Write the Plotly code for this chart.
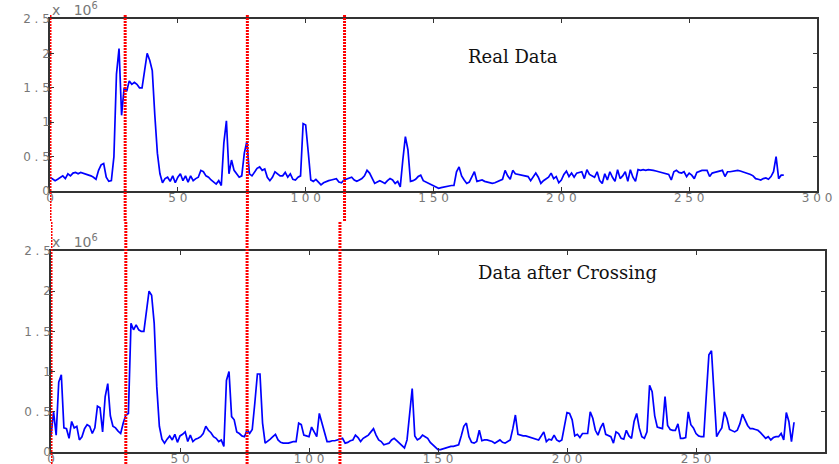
import plotly.graph_objects as go

# values in units of 10^6
real_data = [
    0.20, 0.17, 0.15, 0.17, 0.20, 0.22, 0.18, 0.25, 0.22, 0.26,
    0.27, 0.25, 0.27, 0.26, 0.25, 0.24, 0.22, 0.20, 0.17, 0.30,
    0.38, 0.40, 0.20, 0.14, 0.15, 0.50, 1.70, 2.07, 1.10, 1.50,
    1.45, 1.60, 1.55, 1.58, 1.55, 1.50, 1.50, 1.75, 2.00, 1.90,
    1.75, 1.10, 0.55, 0.25, 0.12, 0.18, 0.20, 0.14, 0.22, 0.12,
    0.20, 0.25, 0.15, 0.22, 0.13, 0.22, 0.15, 0.18, 0.20, 0.30,
    0.28, 0.22, 0.20, 0.16, 0.13, 0.10, 0.15, 0.08, 0.70, 1.02,
    0.25, 0.45, 0.30, 0.25, 0.20, 0.22, 0.55, 0.72, 0.25, 0.22,
    0.28, 0.33, 0.35, 0.30, 0.32, 0.20, 0.15, 0.20, 0.28, 0.25,
    0.22, 0.22, 0.27, 0.20, 0.25, 0.17, 0.16, 0.20, 0.22, 0.98,
    0.96, 0.57, 0.16, 0.14, 0.17, 0.13, 0.09, 0.12, 0.14, 0.15,
    0.16, 0.17, 0.18, 0.13, 0.12, 0.16, 0.17, 0.19, 0.20, 0.16,
    0.14, 0.16, 0.18, 0.22, 0.30, 0.26, 0.18, 0.11, 0.13, 0.15,
    0.13, 0.11, 0.15, 0.18, 0.16, 0.11, 0.14, 0.06, 0.45, 0.79,
    0.60, 0.14, 0.15, 0.17, 0.21, 0.23, 0.15, 0.13, 0.11, 0.10,
    0.08, 0.06, 0.04, 0.05, 0.06, 0.06, 0.07, 0.08, 0.08, 0.28,
    0.35, 0.22, 0.16, 0.11, 0.13, 0.20, 0.28, 0.14, 0.15, 0.16,
    0.14, 0.13, 0.12, 0.11, 0.12, 0.14, 0.15, 0.17, 0.30, 0.22,
    0.17, 0.30, 0.25, 0.24, 0.23, 0.23, 0.22, 0.21, 0.15, 0.20,
    0.26, 0.20, 0.11, 0.15, 0.18, 0.20, 0.26, 0.18, 0.21, 0.12,
    0.16, 0.24, 0.29, 0.21, 0.26, 0.20, 0.26, 0.27, 0.28, 0.18,
    0.31, 0.24, 0.22, 0.20, 0.28, 0.15, 0.11, 0.25, 0.16, 0.28,
    0.20, 0.14, 0.31, 0.18, 0.22, 0.28, 0.14, 0.31, 0.20, 0.14,
    0.31, 0.30, 0.31, 0.30, 0.31, 0.31, 0.30, 0.29, 0.28, 0.27,
    0.26, 0.26, 0.24, 0.16, 0.28, 0.30, 0.27, 0.26, 0.28, 0.21,
    0.26, 0.23, 0.18, 0.27, 0.29, 0.30, 0.30, 0.30, 0.21, 0.26,
    0.27, 0.28, 0.29, 0.30, 0.21, 0.28, 0.28, 0.29, 0.30, 0.30,
    0.29, 0.28, 0.27, 0.25, 0.24, 0.22, 0.18, 0.17, 0.16, 0.18,
    0.19, 0.17, 0.21, 0.28, 0.50, 0.18, 0.23, 0.23,
]

crossed_data = [
    0.21, 0.50, 0.21, 0.87, 0.96, 0.30, 0.29, 0.17, 0.38, 0.30,
    0.32, 0.15, 0.19, 0.29, 0.34, 0.32, 0.23, 0.30, 0.57, 0.55,
    0.25, 0.69, 0.85, 0.45, 0.32, 0.30, 0.26, 0.23, 0.36, 0.46,
    0.48, 1.60, 1.52, 1.58, 1.52, 1.50, 1.50, 1.75, 2.00, 1.95,
    1.60, 0.81, 0.32, 0.16, 0.11, 0.16, 0.20, 0.15, 0.22, 0.12,
    0.20, 0.22, 0.25, 0.13, 0.21, 0.13, 0.16, 0.17, 0.19, 0.23,
    0.32, 0.27, 0.24, 0.19, 0.17, 0.13, 0.15, 0.07, 0.89, 1.00,
    0.44, 0.40, 0.25, 0.23, 0.20, 0.19, 0.28, 0.23, 0.28, 0.61,
    0.97, 0.97, 0.36, 0.11, 0.13, 0.16, 0.19, 0.22, 0.15, 0.12,
    0.11, 0.11, 0.11, 0.12, 0.13, 0.13, 0.36, 0.34, 0.21, 0.20,
    0.19, 0.31, 0.25, 0.19, 0.48, 0.36, 0.25, 0.13, 0.13, 0.14,
    0.14, 0.15, 0.16, 0.17, 0.11, 0.12, 0.14, 0.15, 0.21, 0.18,
    0.13, 0.17, 0.19, 0.21, 0.25, 0.29, 0.21, 0.15, 0.13, 0.09,
    0.10, 0.11, 0.15, 0.17, 0.14, 0.11, 0.09, 0.05, 0.15, 0.48,
    0.79, 0.20, 0.15, 0.17, 0.21, 0.19, 0.17, 0.12, 0.09, 0.07,
    0.03, 0.03, 0.04, 0.05, 0.06, 0.07, 0.07, 0.08, 0.09, 0.20,
    0.32, 0.36, 0.19, 0.12, 0.11, 0.13, 0.27, 0.14, 0.15, 0.15,
    0.14, 0.13, 0.11, 0.13, 0.15, 0.12, 0.11, 0.13, 0.15, 0.29,
    0.46, 0.22, 0.21, 0.20, 0.20, 0.19, 0.18, 0.17, 0.16, 0.15,
    0.20, 0.25, 0.13, 0.16, 0.15, 0.21, 0.15, 0.13, 0.15, 0.30,
    0.49, 0.48, 0.40, 0.20, 0.22, 0.18, 0.23, 0.23, 0.23, 0.50,
    0.42, 0.27, 0.21, 0.30, 0.36, 0.22, 0.20, 0.19, 0.11, 0.25,
    0.23, 0.17, 0.16, 0.27, 0.20, 0.17, 0.38, 0.48, 0.30, 0.19,
    0.17, 0.25, 0.83, 0.75, 0.45, 0.31, 0.30, 0.29, 0.69, 0.33,
    0.28, 0.27, 0.27, 0.35, 0.17, 0.17, 0.18, 0.50, 0.34, 0.30,
    0.23, 0.20, 0.19, 0.19, 0.71, 1.21, 1.26, 0.73, 0.19, 0.25,
    0.30, 0.50, 0.42, 0.28, 0.26, 0.25, 0.27, 0.35, 0.47, 0.40,
    0.33, 0.29, 0.29, 0.28, 0.27, 0.24, 0.20, 0.17, 0.19, 0.15,
    0.18, 0.19, 0.19, 0.23, 0.15, 0.49, 0.38, 0.13, 0.37,
]

x_real = list(range(len(real_data)))
x_crossed = list(range(len(crossed_data)))

x_ticks = [0, 50, 100, 150, 200, 250, 300]
x_tick_labels = ["0", "5 0", "1 0 0", "1 5 0", "2 0 0", "2 5 0", "3 0 0"]
y_ticks = [0, 0.5, 1, 1.5, 2, 2.5]
y_tick_labels = ["0", "0 . 5", "1", "1 . 5", "2", "2 . 5"]

cross_top = [0, 29.4, 77.2, 115.2]
cross_bottom = [0, 29.0, 76.0, 112.0]

W, H = 839, 464


def px_x(p):
    return p / W


def px_y(p):
    return 1 - p / H


fig = go.Figure()
fig.add_trace(go.Scatter(x=x_real, y=real_data, mode="lines",
                         line=dict(color="#0000ff", width=1.7),
                         xaxis="x", yaxis="y", showlegend=False))
fig.add_trace(go.Scatter(x=x_crossed, y=crossed_data, mode="lines",
                         line=dict(color="#0000ff", width=1.7),
                         xaxis="x2", yaxis="y2", showlegend=False))

tick_font = dict(family="DejaVu Sans", size=12, color="#777777")
axis_common = dict(showgrid=False, zeroline=False, showline=True,
                   linecolor="#333333", linewidth=1.5, mirror="ticks",
                   ticks="inside", ticklen=4, tickcolor="#333333",
                   tickfont=tick_font, automargin=False)
xaxis_extra = dict(ticklabelstandoff=-5)
yaxis_extra = dict(ticklabelstandoff=-4)

fig.update_layout(
    width=W, height=H,
    margin=dict(l=0, r=0, t=0, b=0, pad=0),
    paper_bgcolor="white", plot_bgcolor="white",
    xaxis=dict(domain=[px_x(50), px_x(817)], range=[0, 300], anchor="y",
               tickvals=x_ticks, ticktext=x_tick_labels, **axis_common, **xaxis_extra),
    yaxis=dict(domain=[px_y(191), px_y(19)], range=[0, 2.5], anchor="x",
               tickvals=y_ticks, ticktext=y_tick_labels, **axis_common, **yaxis_extra),
    xaxis2=dict(domain=[px_x(51), px_x(825)], range=[0, 300], anchor="y2",
                tickvals=x_ticks, ticktext=x_tick_labels, **axis_common, **xaxis_extra),
    yaxis2=dict(domain=[px_y(452), px_y(251)], range=[0, 2.5], anchor="x2",
                tickvals=y_ticks, ticktext=y_tick_labels, **axis_common, **yaxis_extra),
)

shapes = []
for c in cross_top:
    shapes.append(dict(type="line", xref="x", yref="paper", x0=c, x1=c,
                       y0=px_y(221), y1=px_y(15), layer="above",
                       line=dict(color="#ff0000", width=3, dash="2px,1px")))
for c in cross_bottom:
    shapes.append(dict(type="line", xref="x2", yref="paper", x0=c, x1=c,
                       y0=0, y1=px_y(221), layer="above",
                       line=dict(color="#ff0000", width=3, dash="2px,1px")))
fig.update_layout(shapes=shapes)

serif = dict(family="DejaVu Serif", size=18, color="#111111")
fig.add_annotation(text="Real Data", xref="x", yref="y", x=181, y=1.96,
                   showarrow=False, font=serif, xanchor="center")
fig.add_annotation(text="Data after Crossing", xref="x2", yref="y2", x=200, y=2.23,
                   showarrow=False, font=serif, xanchor="center")

exp_font = dict(family="DejaVu Sans", size=14, color="#777777")
fig.add_annotation(text="x   10<sup>6</sup>", xref="paper", yref="paper",
                   x=px_x(50), y=px_y(20), xanchor="left", yanchor="bottom",
                   showarrow=False, font=exp_font)
fig.add_annotation(text="x   10<sup>6</sup>", xref="paper", yref="paper",
                   x=px_x(50), y=px_y(252), xanchor="left", yanchor="bottom",
                   showarrow=False, font=exp_font)

fig.write_html("out.html",
               config={"displayModeBar": False},
               post_script="document.body.style.margin='0px';")
